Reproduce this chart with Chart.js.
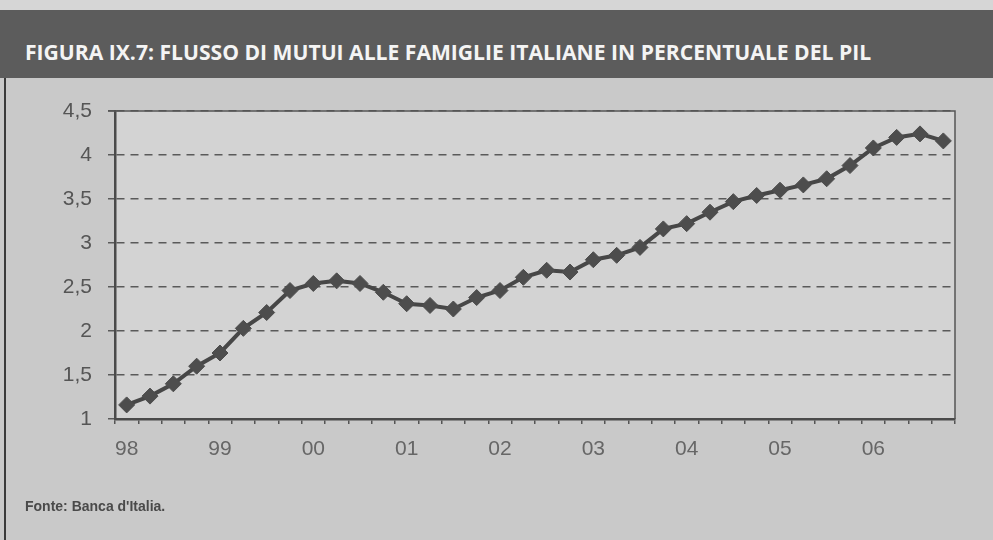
<!DOCTYPE html>
<html>
<head>
<meta charset="utf-8">
<script src="https://cdn.jsdelivr.net/npm/chart.js@4.4.1/dist/chart.umd.min.js"></script>
<style>
  html, body { margin: 0; padding: 0; }
  body { width: 993px; height: 540px; background: #d6d6d6; position: relative; overflow: hidden; font-family: "Liberation Sans", Arial, sans-serif; }
  #band { position: absolute; left: 0; top: 10px; width: 993px; height: 68px; background: #5c5c5c; }
  #title { position: absolute; left: 25px; top: 41px; color: #f4f4f4; font-family: "Open Sans", sans-serif; font-weight: 700; font-size: 18px; line-height: 22px; white-space: nowrap; }
  #box { position: absolute; left: 0; top: 78px; width: 993px; height: 462px; background: #c9c9c9; }
  #edge { position: absolute; left: 4px; top: 78px; width: 2px; height: 462px; background: #3a3a3a; }
  #wrap { position: absolute; left: 0; top: 78px; width: 993px; height: 462px; }
  #source { position: absolute; left: 25px; top: 498px; color: #4a4a4a; font-weight: 700; font-size: 14px; }
</style>
</head>
<body>
<div id="band"></div>
<div id="title">FIGURA IX.7: FLUSSO DI MUTUI ALLE FAMIGLIE ITALIANE IN PERCENTUALE DEL PIL</div>
<div id="box"></div>
<div id="edge"></div>
<div id="wrap"><canvas id="chart" width="993" height="462"></canvas></div>
<div id="source">Fonte: Banca d'Italia.</div>
<script>
// quarterly observations, 1998 Q1 .. 2006 Q4
const years = ['98', '99', '00', '01', '02', '03', '04', '05', '06'];
const quarters = ['I', 'II', 'III', 'IV'];
const mortgageFlow = [
  1.16, 1.26, 1.40, 1.60,
  1.75, 2.03, 2.21, 2.46,
  2.54, 2.57, 2.54, 2.44,
  2.31, 2.29, 2.25, 2.38,
  2.46, 2.61, 2.69, 2.67,
  2.81, 2.86, 2.95, 3.16,
  3.22, 3.35, 3.47, 3.54,
  3.60, 3.66, 3.73, 3.88,
  4.08, 4.20, 4.24, 4.16
];
const yTicks = [1, 1.5, 2, 2.5, 3, 3.5, 4, 4.5];

const categories = [];
years.forEach(y => quarters.forEach(q => categories.push(y + ' ' + q)));

// squeeze the title to the width it has in the original
const title = document.getElementById('title');
const want = 847;
title.style.fontSize = (18 * want / title.offsetWidth).toFixed(2) + 'px';

const plotBox = {
  id: 'plotBox',
  beforeDraw(chart) {
    const { ctx, chartArea: a } = chart;
    ctx.save();
    ctx.fillStyle = '#d3d3d3';
    ctx.fillRect(a.left, a.top, a.right - a.left, a.bottom - a.top);
    ctx.restore();
  },
  afterDatasetsDraw(chart) {
    const { ctx, chartArea: a } = chart;
    ctx.save();
    ctx.strokeStyle = '#555';
    ctx.lineWidth = 1.5;
    ctx.beginPath();
    ctx.moveTo(a.left - 7, a.top);
    ctx.lineTo(a.right, a.top);
    ctx.lineTo(a.right, a.bottom);
    ctx.stroke();
    ctx.restore();
  }
};

new Chart('chart', {
  type: 'line',
  data: {
    labels: categories,
    datasets: [{
      data: mortgageFlow,
      borderColor: '#474747',
      borderWidth: 4,
      pointStyle: 'rectRot',
      pointRadius: 8,
      pointBackgroundColor: '#4d4d4d',
      pointBorderColor: '#4d4d4d',
      pointBorderWidth: 1,
      tension: 0
    }]
  },
  options: {
    responsive: false,
    animation: false,
    layout: { padding: { left: 55, right: 38, top: 33, bottom: 0 } },
    plugins: { legend: { display: false }, tooltip: { enabled: false } },
    scales: {
      x: {
        offset: true,
        grid: { offset: true, drawOnChartArea: false, drawTicks: true, tickLength: 5, color: '#555', lineWidth: 1.5 },
        border: { display: true, color: '#4a4a4a', width: 2.5 },
        ticks: {
          autoSkip: false, maxRotation: 0, padding: 13, color: '#666',
          font: { family: 'Liberation Sans', size: 21 },
          callback: (v, i) => i % 4 === 0 ? years[i / 4] : ''
        },
        afterFit: s => { s.height = 121; }
      },
      y: {
        min: 1, max: 4.5,
        afterBuildTicks: s => { s.ticks = yTicks.map(v => ({ value: v })); },
        grid: { color: '#5a5a5a', lineWidth: 1.5, tickLength: 7 },
        border: { display: true, color: '#4a4a4a', width: 2.5, dash: [8, 6] },
        ticks: {
          padding: 16, color: '#555',
          font: { family: 'Liberation Sans', size: 21 },
          callback: v => String(v).replace('.', ',')
        },
        afterFit: s => { s.width = 60; }
      }
    }
  },
  plugins: [plotBox]
});
</script>
</body>
</html>
